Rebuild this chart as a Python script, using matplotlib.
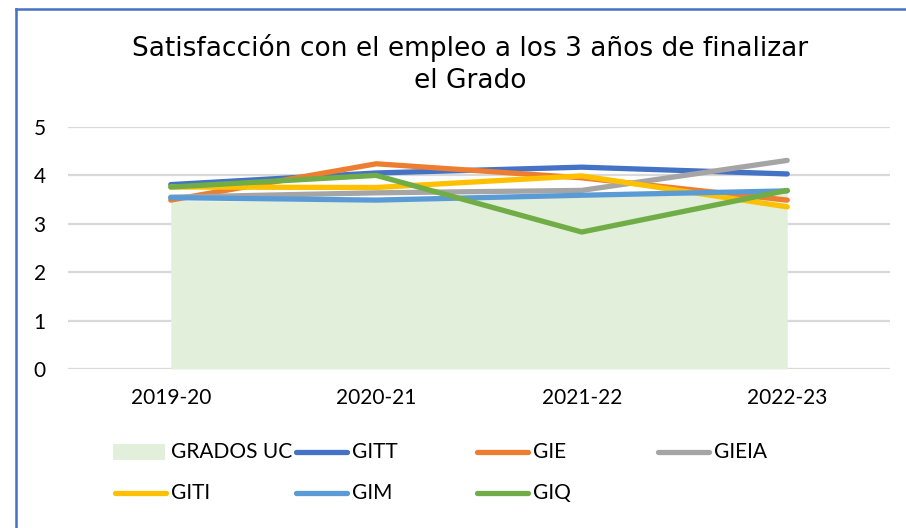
import numpy as np
import matplotlib
matplotlib.use("Agg")
import matplotlib.pyplot as plt
from matplotlib.lines import Line2D
from matplotlib.patches import Rectangle

# datos
cursos = ["2019-20", "2020-21", "2021-22", "2022-23"]
grados_uc = [3.48, 3.46, 3.56, 3.74]
gitt = [3.81, 4.05, 4.17, 4.03]
gie = [3.49, 4.24, 3.95, 3.49]
gieia = [3.55, 3.64, 3.69, 4.31]
giti = [3.76, 3.75, 3.99, 3.35]
gim = [3.54, 3.49, 3.59, 3.68]
giq = [3.76, 4.00, 2.83, 3.69]

series = [
    ("GITT", gitt, "#4472C4"),
    ("GIE", gie, "#ED7D31"),
    ("GIEIA", gieia, "#A5A5A5"),
    ("GITI", giti, "#FFC000"),
    ("GIM", gim, "#5B9BD5"),
    ("GIQ", giq, "#70AD47"),
]
area_color = "#E2EFDA"

plt.rcParams["font.family"] = ["Lato", "DejaVu Sans"]

fig = plt.figure(figsize=(9.06, 5.28), dpi=100)
ax = fig.add_axes([68 / 906, 1 - 369 / 528, (890 - 68) / 906, (369 - 127) / 528])

x = np.arange(len(cursos))
ax.fill_between(x, 0, grados_uc, color=area_color, linewidth=0, zorder=1)
for name, values, color in series:
    ax.plot(x, values, color=color, linewidth=3.8, solid_capstyle="round",
            solid_joinstyle="round", zorder=3)

ax.set_xlim(-0.5, len(cursos) - 0.5)
ax.set_ylim(0, 5)
ax.set_yticks(range(0, 6))
ax.set_xticks(x)
ax.set_xticklabels(cursos)
ax.tick_params(axis="both", length=0, labelsize=15, colors="#000000")
ax.tick_params(axis="y", pad=16)
ax.tick_params(axis="x", pad=14)
ax.grid(axis="y", color="#D9D9D9", linewidth=1.6, zorder=0)
ax.set_axisbelow(True)
for spine in ax.spines.values():
    spine.set_visible(False)

fig.text(470 / 906, 1 - 64 / 528,
         "Satisfacción con el empleo a los 3 años de finalizar\nel Grado",
         ha="center", va="center", fontsize=19, linespacing=1.25,
         color="#000000", family="DejaVu Sans")

# leyenda manual (4 columnas, como en Excel)
entries = [("GRADOS UC", None, area_color)] + series
for i, (name, values, color) in enumerate(entries):
    col = i % 4
    row = i // 4
    x0 = (113 + 181 * col) / 906
    y0 = 1 - (452 + 41 * row) / 528
    if values is None:
        fig.add_artist(Rectangle((x0, y0 - 8 / 528), 52 / 906, 16 / 528,
                                 transform=fig.transFigure, color=color,
                                 linewidth=0))
    else:
        fig.add_artist(Line2D([x0 + 2 / 906, x0 + 53 / 906], [y0, y0],
                              transform=fig.transFigure, color=color,
                              linewidth=3.8, solid_capstyle="round"))
    fig.text(x0 + 58 / 906, y0, name, ha="left", va="center", fontsize=15)

# borde azul del área del gráfico
fig.add_artist(Line2D([16 / 906, 16 / 906], [0, 1 - 9 / 528],
                      transform=fig.transFigure, color="#4472C4", linewidth=1.8))
fig.add_artist(Line2D([16 / 906, 1], [1 - 9 / 528, 1 - 9 / 528],
                      transform=fig.transFigure, color="#4472C4", linewidth=1.8))

plt.savefig("out.png", dpi=100)
plt.close()
